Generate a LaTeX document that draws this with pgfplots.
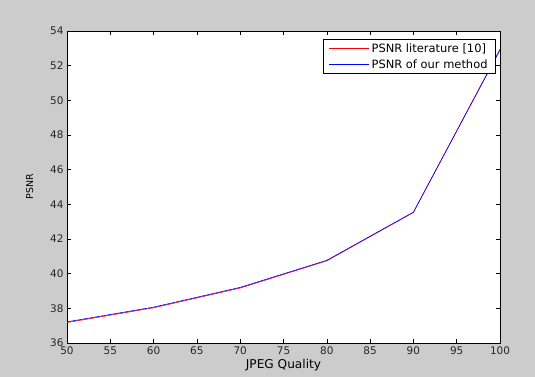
\documentclass[border=0pt]{standalone}
\usepackage{fontspec}
\setmainfont{DejaVu Sans}
\usepackage{pgfplots}
\pgfplotsset{compat=1.18}
\definecolor{figbg}{RGB}{204,204,204}
\begin{document}
\begin{tikzpicture}
\fill[figbg] (0,0) rectangle (535bp,377bp);
\begin{axis}[
  at={(67bp,34bp)}, anchor=south west,
  scale only axis, width=433bp, height=312bp,
  xmin=50, xmax=100, ymin=36, ymax=54,
  xtick={50,55,...,100}, ytick={36,38,...,54},
  tick align=inside, major tick length=4bp,
  axis background/.style={fill=white},
  axis line style={black, line width=0.5pt},
  tick style={black, line width=0.5pt},
  ticklabel style={font=\fontsize{10.5}{12}\selectfont, text=black!85},
  /pgf/number format/assume math mode=true,
  xlabel={JPEG Quality}, ylabel={PSNR},
  xlabel style={font=\fontsize{12.2}{14}\selectfont, yshift=2bp},
  ylabel style={font=\fontsize{9.5}{11}\selectfont, yshift=10bp},
  legend style={at={(0.989,0.974)}, anchor=north east, draw=black, fill=white,
    font=\fontsize{11.5}{13}\selectfont, inner xsep=5.5bp, inner ysep=2bp, row sep=2pt, cells={anchor=west}},
  legend image code/.code={\draw[mark repeat=2,mark phase=2,#1] plot coordinates {(0bp,0bp) (20bp,0bp) (40bp,0bp)};},
]
\addplot[red, line width=0.6pt] coordinates {(50,37.18) (60,38.03) (70,39.17) (80,40.74) (90,43.53) (100,52.95)};
\addlegendentry{PSNR literature [10]}
\addplot[blue, line width=0.6pt] coordinates {(50,37.22) (60,38.07) (70,39.21) (80,40.77) (90,43.55) (100,52.9)};
\addlegendentry{PSNR of our method}
\end{axis}
\end{tikzpicture}
\end{document}
